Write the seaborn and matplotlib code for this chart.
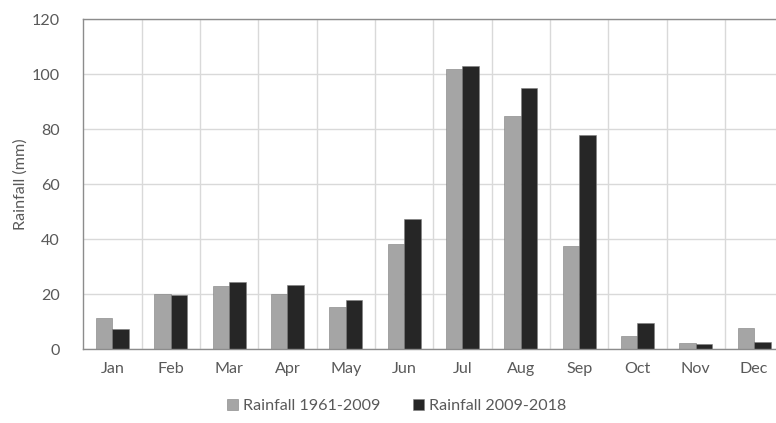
import pandas as pd
import matplotlib
matplotlib.use("Agg")
import matplotlib.pyplot as plt
import seaborn as sns

months = ["Jan", "Feb", "Mar", "Apr", "May", "Jun",
          "Jul", "Aug", "Sep", "Oct", "Nov", "Dec"]
rain_1961_2009 = [11.4, 20.0, 23.0, 20.0, 15.5, 38.4, 102.1, 85.0, 37.5, 4.8, 2.3, 7.9]
rain_2009_2018 = [7.2, 19.8, 24.4, 23.3, 17.8, 47.3, 103.0, 95.0, 78.1, 9.5, 1.9, 2.8]
series_names = ["Rainfall 1961-2009", "Rainfall 2009-2018"]

df = pd.DataFrame({
    "month": months * 2,
    "rain": rain_1961_2009 + rain_2009_2018,
    "series": [series_names[0]] * 12 + [series_names[1]] * 12,
})

sns.set_style("white")
plt.rcParams["font.family"] = ["Lato", "DejaVu Sans"]
text_col = "#595959"
fs = 11.6

fig = plt.figure(figsize=(7.76, 4.23), dpi=100)
ax = fig.add_axes([83.3 / 776, 73.7 / 423, 700 / 776, 330 / 423])

sns.barplot(data=df, x="month", y="rain", hue="series", order=months,
            hue_order=series_names, palette=["#a5a5a5", "#262626"],
            width=0.57, gap=0, saturation=1, edgecolor="#7f7f7f",
            linewidth=0.4, ax=ax)

ax.set_xlim(-0.5, 11.5)
ax.set_ylim(0, 120)
ax.set_yticks(range(0, 121, 20))
ax.set_xticks(range(12), minor=False)
ax.set_xticks([i + 0.5 for i in range(11)], minor=True)
ax.grid(True, which="major", axis="y", color="#d9d9d9", linewidth=1)
ax.grid(True, which="minor", axis="x", color="#d9d9d9", linewidth=1)
ax.grid(False, which="major", axis="x")
ax.set_axisbelow(True)

for side in ["left", "bottom", "top"]:
    ax.spines[side].set_visible(True)
    ax.spines[side].set_color("#8c8c8c")
    ax.spines[side].set_linewidth(1)
ax.spines["right"].set_visible(False)

ax.tick_params(axis="both", which="both", length=0, colors=text_col, labelsize=fs)
ax.tick_params(axis="y", pad=17)
ax.tick_params(axis="x", pad=9)
ax.set_xlabel("")
ax.set_ylabel("Rainfall (mm)", color=text_col, fontsize=fs)
ax.yaxis.set_label_coords(-0.079, 0.5)

handles, labels = ax.get_legend_handles_labels()
ax.get_legend().remove()
fig.legend(handles, labels, loc="center", bbox_to_anchor=(396.7 / 776, 1 - 406 / 423),
           ncol=2, frameon=False, fontsize=fs, labelcolor=text_col,
           handlelength=0.7, handleheight=0.7, handletextpad=0.3,
           columnspacing=2.0)

fig.savefig("out.png", dpi=100)
